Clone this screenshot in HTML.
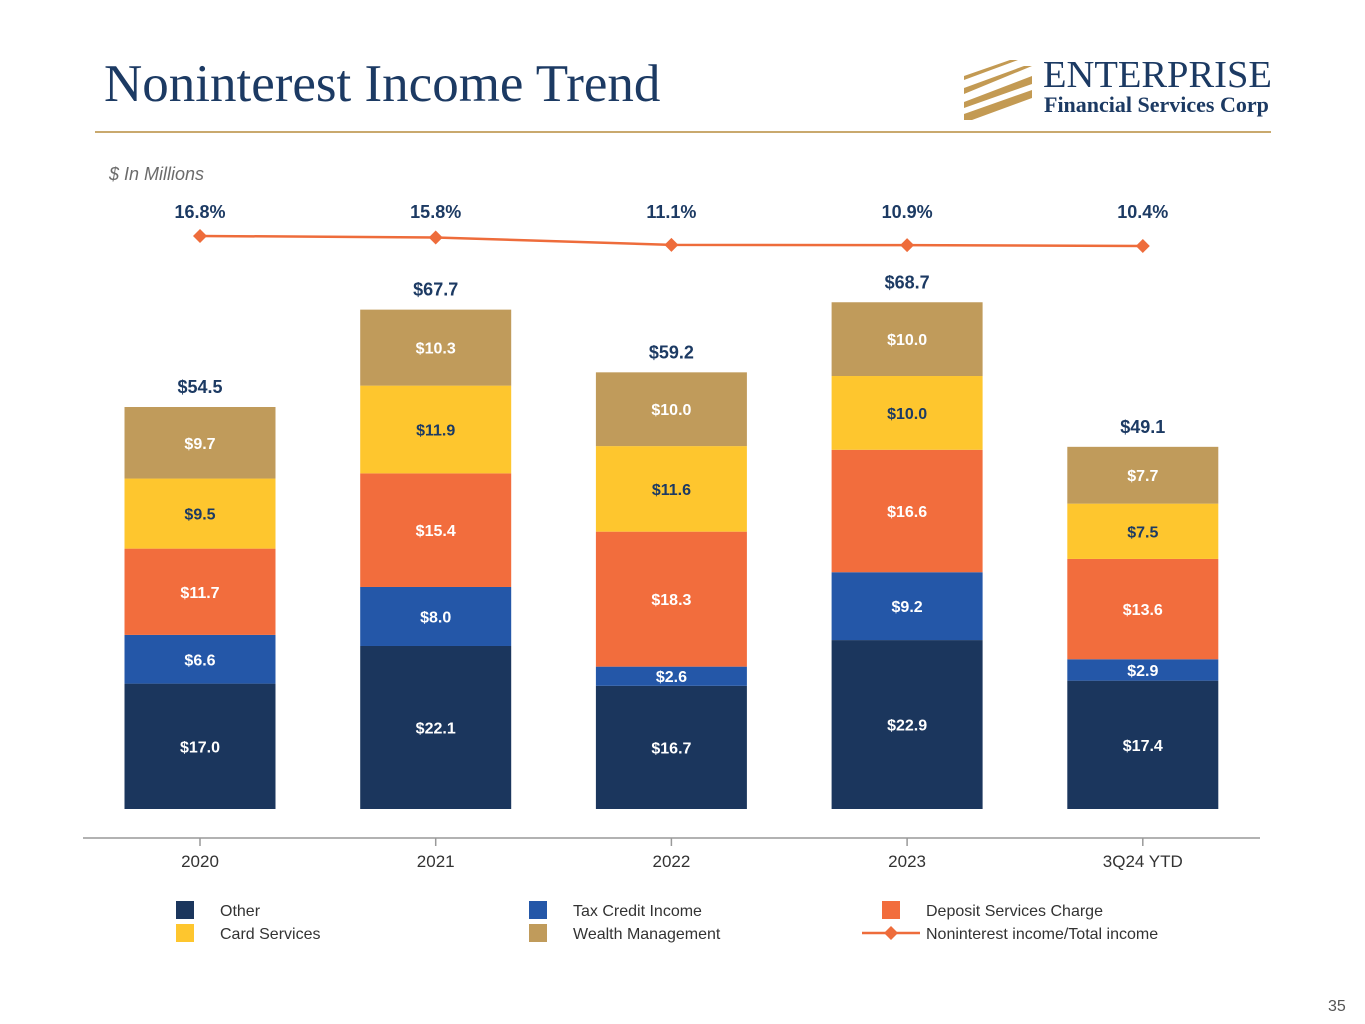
<!DOCTYPE html>
<html><head><meta charset="utf-8"><style>
body{margin:0;width:1365px;height:1024px;background:#fff;overflow:hidden;font-family:"Liberation Sans",sans-serif;position:relative}
.t{position:absolute}
</style></head><body>
<div class="t" style="left:104px;top:54px;font-family:'Liberation Serif',serif;font-size:53px;color:#1c3a63">Noninterest Income Trend</div>
<div class="t" style="left:95px;top:131px;width:1176px;height:2px;background:#c9a96e"></div>
<div class="t" style="left:962px;top:56px;width:320px;height:66px">
<svg width="320" height="66"><g fill="#c39a53">
<polygon points="2,20 48,4 56,4 2,24"/><polygon points="2,32 62,10 70,10 2,38"/><polygon points="2,46 70,20 70,28 2,52"/><polygon points="2,58 70,34 70,42 10,64 2,64"/></g>
<text x="81" y="31" font-family="Liberation Serif,serif" font-size="38.5" fill="#1c3a63">ENTERPRISE</text>
<text x="82" y="56" font-family="Liberation Serif,serif" font-size="22" font-weight="bold" fill="#1c3a63">Financial Services Corp</text></svg></div>
<div class="t" style="left:109px;top:164px;font-size:18px;font-style:italic;color:#6b6b6b">$ In Millions</div>
<svg id="c" class="t" style="left:0;top:0" width="1365" height="1024"></svg>
<div class="t" style="left:1328px;top:998px;font-size:16px;color:#555">35</div>
<script>
const categories=["2020","2021","2022","2023","3Q24 YTD"];
const series=["Other","Tax Credit Income","Deposit Services Charge","Card Services","Wealth Management"];
const other=[17.0,22.1,16.7,22.9,17.4];
const taxCredit=[6.6,8.0,2.6,9.2,2.9];
const deposit=[11.7,15.4,18.3,16.6,13.6];
const card=[9.5,11.9,11.6,10.0,7.5];
const wealth=[9.7,10.3,10.0,10.0,7.7];
const totals=[54.5,67.7,59.2,68.7,49.1];
const ratio=[16.8,15.8,11.1,10.9,10.4];
const colors=["#1b365d","#2457a8","#f26d3d","#fec62e","#c09b5b"];
const textCol=["#fff","#fff","#fff","#1c3a63","#fff"];
const data=[other,taxCredit,deposit,card,wealth];
const svg=document.getElementById('c');const NS="http://www.w3.org/2000/svg";
function el(t,a,p){const e=document.createElementNS(NS,t);for(const k in a)e.setAttribute(k,a[k]);(p||svg).appendChild(e);return e;}
const base=809,k=402/54.5;
const y=v=>base-v*k;
const x=i=>200+i*235.7;
const yr=v=>262.2-v*1.5625;
const bw=151;
const ax=el('line',{x1:83,x2:1260,y1:838,y2:838,stroke:'#999','stroke-width':1.5});


categories.forEach((c,i)=>{
 let cum=0;
 data.forEach((s,j)=>{
  const v=s[i];
  const r=el('rect',{x:x(i)-bw/2,y:y(cum+v),width:bw,height:v*k,fill:colors[j]});
  
  
  const t=el('text',{x:x(i),y:y(cum+v/2)+6,'text-anchor':'middle','font-size':16,'font-weight':'bold',fill:textCol[j]});
  t.textContent='$'+v.toFixed(1);
  
  
  cum+=v;
 });
 const tt=el('text',{x:x(i),y:y(totals[i])-14,'text-anchor':'middle','font-size':18,'font-weight':'bold',fill:'#1c3a63'});
 tt.textContent='$'+totals[i].toFixed(1);
 
 
 const tk=el('line',{x1:x(i),x2:x(i),y1:838,y2:846,stroke:'#999','stroke-width':1.5});
 
 
 const cl=el('text',{x:x(i),y:867,'text-anchor':'middle','font-size':17,fill:'#333'});
 cl.textContent=c;
 
 
 const pl=el('text',{x:x(i),y:218,'text-anchor':'middle','font-size':18,'font-weight':'bold',fill:'#1c3a63'});
 pl.textContent=ratio[i].toFixed(1)+'%';
 
 
});
const ln=el('polyline',{points:ratio.map((v,i)=>x(i)+','+yr(v)).join(' '),fill:'none',stroke:'#ee6c3b','stroke-width':2.5});


ratio.forEach((v,i)=>{
 const d=el('polygon',{points:`${x(i)},${yr(v)-7} ${x(i)+7},${yr(v)} ${x(i)},${yr(v)+7} ${x(i)-7},${yr(v)}`,fill:'#ee6c3b'});
 
 
});
const leg=[["Other",0,176,910],["Tax Credit Income",1,529,910],["Deposit Services Charge",2,882,910],["Card Services",3,176,933],["Wealth Management",4,529,933]];
leg.forEach(l=>{
 const r=el('rect',{x:l[2],y:l[3]-9,width:18,height:18,fill:colors[l[1]]});
 
 
 const t=el('text',{x:l[2]+44,y:l[3]+6,'font-size':16,fill:'#333'});
 t.textContent=l[0];
 
 
});
const ll=el('line',{x1:862,x2:920,y1:933,y2:933,stroke:'#ee6c3b','stroke-width':2.5});


const ld=el('polygon',{points:'891,926 898,933 891,940 884,933',fill:'#ee6c3b'});


const lt=el('text',{x:926,y:939,'font-size':16,fill:'#333'});
lt.textContent='Noninterest income/Total income';


</script>
</body></html>
